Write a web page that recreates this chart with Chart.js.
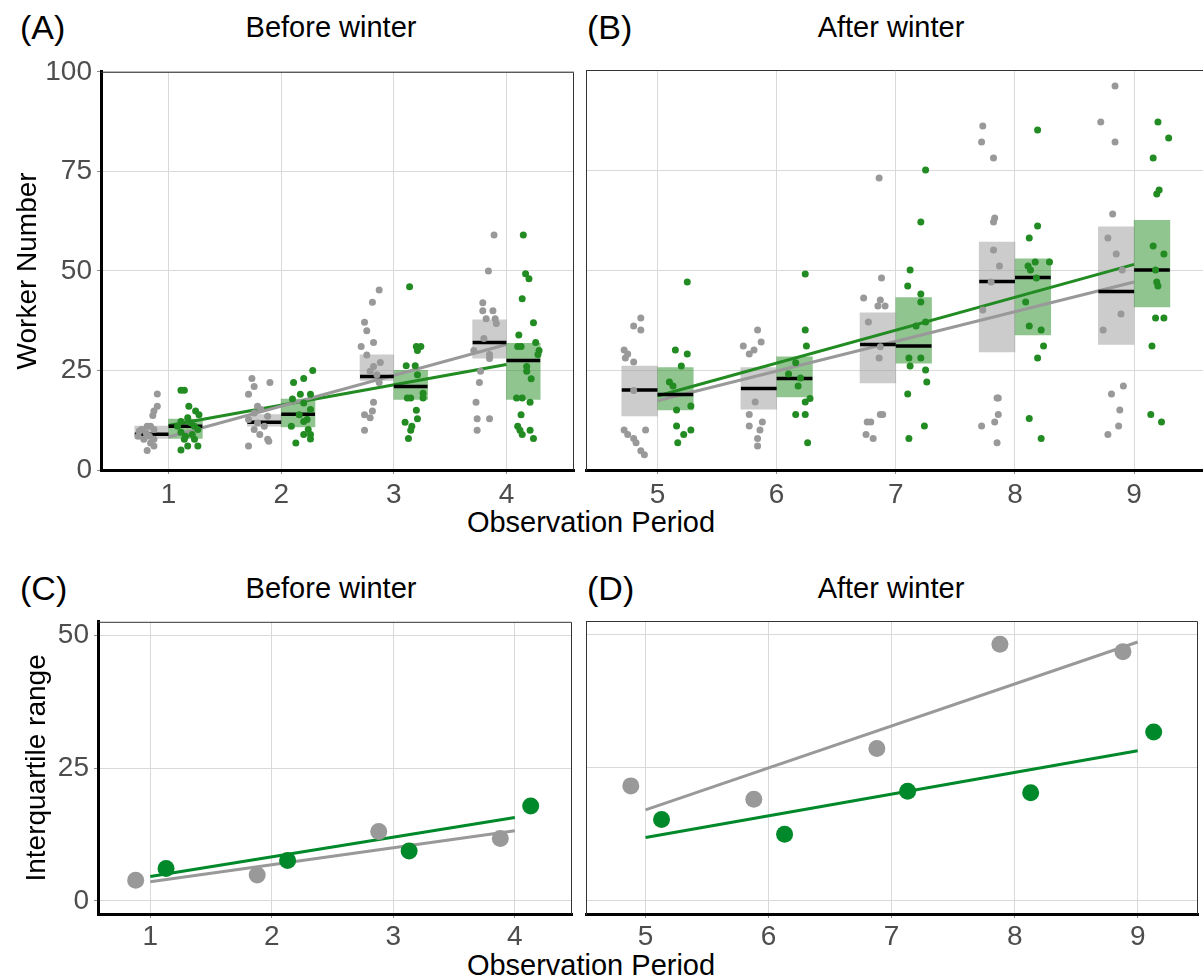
<!DOCTYPE html>
<html>
<head>
<meta charset="utf-8">
<script src="https://cdn.jsdelivr.net/npm/chart.js@4.4.1/dist/chart.umd.min.js"></script>
<style>
  html, body { margin: 0; padding: 0; background: #fff; }
  body { width: 1203px; height: 980px; position: relative; overflow: hidden; font-family: "Liberation Sans", Arial, sans-serif; }
  canvas { position: absolute; }
  .t { position: absolute; white-space: nowrap; color: #000; line-height: 1; }
  .c { transform: translate(-50%, -50%); }
  .l { transform: translateY(-50%); }
</style>
</head>
<body>
<div class="t l" style="left:20px;top:27px;font-size:34px">(A)</div>
<div class="t c" style="left:331px;top:27px;font-size:29px">Before winter</div>
<div class="t l" style="left:587px;top:27px;font-size:34px">(B)</div>
<div class="t c" style="left:891px;top:27px;font-size:29px">After winter</div>
<div class="t c" style="left:591px;top:522px;font-size:29px">Observation Period</div>

<div class="t l" style="left:20px;top:588px;font-size:34px">(C)</div>
<div class="t c" style="left:331px;top:588px;font-size:29px">Before winter</div>
<div class="t l" style="left:587px;top:588px;font-size:34px">(D)</div>
<div class="t c" style="left:891px;top:588px;font-size:29px">After winter</div>
<div class="t c" style="left:591px;top:965px;font-size:29px">Observation Period</div>

<canvas id="chartA" width="585" height="470" style="left:0;top:50px"></canvas>
<canvas id="chartB" width="640" height="470" style="left:580px;top:50px"></canvas>
<canvas id="chartC" width="585" height="380" style="left:0;top:600px"></canvas>
<canvas id="chartD" width="640" height="380" style="left:578px;top:600px"></canvas>

<script>
// ── Observation periods ────────────────────────────
const periodsBefore = [1, 2, 3, 4];
const periodsAfter = [5, 6, 7, 8, 9];

// ── Worker number per colony: [jitter, workers], one list per period ──
const greyCounts = [
  [[-0.10,19.1],[-0.10,16],[-0.13,14.8],[-0.14,13.7],[-0.19,11],[-0.24,10.2],[-0.13,10.2],[-0.20,9.3],[-0.16,11],[-0.27,8.5],[-0.17,8.5],[-0.22,7.7],[-0.13,7.7],[-0.16,6.8],[-0.13,6],[-0.19,4.9],[-0.26,9.8]],
  [[-0.26,23],[-0.10,22],[-0.24,21],[-0.29,19],[-0.21,16],[-0.18,15.2],[-0.24,14.3],[-0.12,13.5],[-0.29,12.7],[-0.21,11.8],[-0.15,11],[-0.19,8.9],[-0.12,7.7],[-0.29,6],[-0.11,7.2],[-0.24,10.2]],
  [[-0.13,45.2],[-0.19,42.1],[-0.26,37.1],[-0.24,35],[-0.18,32],[-0.29,31],[-0.24,28.9],[-0.12,27],[-0.18,26],[-0.21,24.8],[-0.15,23.9],[-0.13,22],[-0.18,17],[-0.19,14.8],[-0.26,13.9],[-0.21,13.1],[-0.26,10]],
  [[-0.11,59],[-0.16,50],[-0.21,42],[-0.21,40],[-0.12,40],[-0.18,38],[-0.10,38],[-0.09,36.8],[-0.20,33],[-0.29,30],[-0.15,29],[-0.15,28],[-0.23,24.8],[-0.24,22],[-0.27,17],[-0.26,12.9],[-0.15,12.9],[-0.26,10]],
  [[-0.14,38],[-0.20,36],[-0.14,35],[-0.28,30],[-0.25,29],[-0.27,28],[-0.20,27],[-0.20,19.9],[-0.28,10],[-0.25,8.9],[-0.20,7.9],[-0.18,6.8],[-0.10,10],[-0.14,4.8],[-0.11,3.8]],
  [[-0.16,35],[-0.28,31],[-0.19,30],[-0.23,29],[-0.13,32],[-0.18,17],[-0.23,13.9],[-0.12,12],[-0.23,11],[-0.14,10],[-0.16,7.9],[-0.16,6]],
  [[-0.14,73],[-0.12,48],[-0.27,43],[-0.13,42.5],[-0.15,41],[-0.09,41],[-0.23,37],[-0.13,30.8],[-0.14,28],[-0.24,12],[-0.21,12],[-0.11,13.9],[-0.13,13.9],[-0.25,8.9],[-0.19,7.9]],
  [[-0.27,86],[-0.28,82],[-0.18,78],[-0.17,63],[-0.18,62],[-0.18,55],[-0.13,51],[-0.20,47],[-0.27,40],[-0.14,18],[-0.15,18],[-0.14,13.9],[-0.17,12],[-0.28,11],[-0.15,6.8]],
  [[-0.16,96],[-0.28,87],[-0.16,82],[-0.18,64],[-0.22,58],[-0.15,54],[-0.10,50],[-0.11,39],[-0.26,35],[-0.09,21],[-0.19,19],[-0.12,15],[-0.13,11],[-0.22,8.9]]
];
const greenCounts = [
  [[0.11,20],[0.14,20],[0.18,16],[0.24,14.8],[0.27,13.9],[0.17,13.1],[0.11,12.2],[0.20,11.8],[0.23,11],[0.26,10.2],[0.11,9.5],[0.21,8.9],[0.14,7.7],[0.23,7.7],[0.17,6],[0.26,6],[0.11,5],[0.15,8.5],[0.08,11]],
  [[0.28,25],[0.20,23],[0.11,22],[0.17,19],[0.26,19],[0.10,17.8],[0.20,16.8],[0.26,15.2],[0.16,13.9],[0.23,12.7],[0.09,11],[0.20,12.2],[0.24,10.2],[0.26,8.9],[0.20,8.9],[0.26,7.8],[0.13,6.8]],
  [[0.14,46],[0.20,31],[0.24,31],[0.21,30],[0.11,26.2],[0.19,26.2],[0.21,23.9],[0.15,18.1],[0.12,18.1],[0.26,18.1],[0.20,15],[0.21,12.9],[0.10,12],[0.16,11],[0.15,10],[0.13,7.9],[0.26,19.3]],
  [[0.15,59],[0.17,49.3],[0.20,48],[0.14,43],[0.24,37],[0.11,33.9],[0.26,32],[0.13,31],[0.10,31],[0.29,30],[0.28,29],[0.18,26],[0.18,24.8],[0.22,22.9],[0.09,18.1],[0.14,18.1],[0.21,17],[0.13,13.9],[0.10,11],[0.12,10],[0.14,8.9],[0.21,10],[0.24,7.9]],
  [[0.25,47],[0.15,30],[0.25,29],[0.20,26],[0.10,22],[0.13,21],[0.16,15],[0.28,16],[0.16,11],[0.28,10],[0.22,8.9],[0.17,6.8]],
  [[0.24,49],[0.24,35],[0.25,31],[0.16,26.8],[0.10,24],[0.20,23],[0.18,21],[0.28,17.9],[0.24,17],[0.16,13.9],[0.24,13.9],[0.26,6.8]],
  [[0.25,75],[0.21,62],[0.12,50],[0.10,46],[0.21,44],[0.21,42],[0.25,37],[0.17,36],[0.11,28],[0.21,28],[0.12,26],[0.25,25],[0.26,22],[0.10,19],[0.24,11],[0.11,7.9]],
  [[0.19,85],[0.19,61],[0.12,58],[0.29,52],[0.17,52],[0.11,51],[0.13,50],[0.18,48],[0.09,42],[0.12,36],[0.22,35],[0.24,31],[0.19,28],[0.12,12.9],[0.22,7.9]],
  [[0.20,87],[0.29,83],[0.16,78],[0.21,70],[0.19,69],[0.16,56],[0.25,54],[0.18,50],[0.19,47],[0.20,46],[0.18,38],[0.25,38],[0.15,31],[0.14,13.9],[0.23,12]]
];

// ── Quartile boxes and medians per period ──────────
const greyQ1  = [7.9, 11, 22.5, 28.1, 13.5, 15.2, 21.8, 29.5, 31.4];
const greyMed = [9, 12, 23.5, 32, 20, 20.4, 31.4, 47.1, 44.6];
const greyQ3  = [11, 13.9, 28.9, 37.7, 26, 25.6, 39.3, 57, 60.8];
const greenQ1  = [7.9, 10.8, 17.7, 17.7, 15, 18.3, 26.7, 33.8, 40.8];
const greenMed = [11, 14, 21, 27.5, 18.9, 22.9, 31, 48.1, 50];
const greenQ3  = [12.8, 17.8, 25, 31.8, 25.6, 28.3, 43.1, 52.8, 62.4];

// ── Fitted trends: value at first and last period ──
const greyFitBefore = [8.3, 31.5];
const greenFitBefore = [11.2, 26.5];
const greyFitAfter = [17.3, 47];
const greenFitAfter = [18.5, 51.4];

// ── Interquartile range per period ─────────────────
const greyIqr = [3.9, 4.9, 13.1, 11.75, 21.6, 19.1, 28.6, 48.2, 46.8];
const greenIqr = [6.1, 7.6, 9.4, 17.9, 15.3, 12.5, 20.6, 20.3, 31.7];
const greyIqrFitBefore = [3.6, 13.2];
const greenIqrFitBefore = [4.6, 15.7];
const greyIqrFitAfter = [17.1, 48.6];
const greenIqrFitAfter = [11.9, 28.2];

const workerTicks = { min: 0, max: 100, step: 25 };
const iqrTicks = { min: -2.45, max: 52.55, step: 25 };

// ── Styling ────────────────────────────────────────
const FONT = '"Liberation Sans", Arial, sans-serif';
const GREY = "#999999";
const GREEN = "#228b22";
const GREEN_IQR = "#00892a";
const GRID = "#d9d9d9";
const TICK_TEXT = "#4d4d4d";

Chart.defaults.font.family = FONT;
Chart.defaults.animation = false;

// thin frame on top and right of each panel
const frame = {
  id: "frame",
  afterDraw(chart) {
    const { ctx, chartArea: a } = chart;
    ctx.save();
    ctx.strokeStyle = "#333";
    ctx.lineWidth = 1;
    ctx.beginPath();
    ctx.moveTo(a.left, a.top + 0.5);
    ctx.lineTo(a.right - 0.5, a.top + 0.5);
    ctx.lineTo(a.right - 0.5, a.bottom);
    ctx.stroke();
    ctx.restore();
  }
};

function xScale(min, max, height, pad) {
  return {
    type: "linear", min, max, offset: false,
    afterFit: s => { s.height = height; },
    grid: { color: GRID, lineWidth: 1, tickColor: "#8c8c8c", tickLength: 4, offset: false },
    border: { color: "#000", width: 3 },
    ticks: { stepSize: 1, includeBounds: false, color: TICK_TEXT, padding: pad, maxRotation: 0, autoSkip: false, font: { size: 28 } }
  };
}

function yScale(range, width, withLabels, title, titlePad) {
  return {
    type: "linear", min: range.min, max: range.max,
    afterFit: s => { s.width = width; },
    grid: { color: GRID, lineWidth: 1, tickColor: "#8c8c8c", tickLength: withLabels ? 4 : 0, drawTicks: withLabels },
    border: withLabels ? { color: "#000", width: 3 } : { color: "#333", width: 1 },
    ticks: { stepSize: range.step, includeBounds: false, display: withLabels, color: TICK_TEXT, padding: 5, font: { size: 28 } },
    title: { display: !!title, text: title, color: "#000", font: { size: 28 }, padding: { top: titlePad, bottom: 0 } }
  };
}

function segment(x0, x1, y) {
  return [{ x: x0, y }, { x: x1, y }, { x: x1, y: null }];
}

function workerDatasets(periods, greyFit, greenFit, boxPx) {
  const first = periods[0], last = periods[periods.length - 1];
  const box = (q1, q3, shift, color) => ({
    type: "bar", grouped: false, barThickness: boxPx, borderWidth: 0, backgroundColor: color, order: 4,
    data: periods.map(p => ({ x: p + shift, y: [q1[p - 1], q3[p - 1]] }))
  });
  const fit = (vals, color) => ({
    type: "line", data: [{ x: first, y: vals[0] }, { x: last, y: vals[1] }],
    borderColor: color, borderWidth: 3, pointRadius: 0, order: 3
  });
  const medians = (vals, from, to) => ({
    type: "line", data: periods.flatMap(p => segment(p + from, p + to, vals[p - 1])),
    borderColor: "#000", borderWidth: 3.5, pointRadius: 0, spanGaps: false, order: 2
  });
  const dots = (counts, color) => ({
    type: "scatter", order: 1, pointRadius: 3.5, pointBorderWidth: 0, backgroundColor: color,
    data: periods.flatMap(p => counts[p - 1].map(([dx, y]) => ({ x: p + dx, y })))
  });
  return [
    box(greyQ1, greyQ3, -0.15, "rgba(153,153,153,0.5)"),
    box(greenQ1, greenQ3, 0.15, "rgba(34,139,34,0.5)"),
    fit(greyFit, GREY),
    fit(greenFit, GREEN),
    medians(greyMed, -0.3, 0),
    medians(greenMed, 0, 0.3),
    dots(greyCounts, GREY),
    dots(greenCounts, GREEN)
  ];
}

function iqrDatasets(periods, greyFit, greenFit) {
  const first = periods[0], last = periods[periods.length - 1];
  const fit = (vals, color) => ({
    type: "line", data: [{ x: first, y: vals[0] }, { x: last, y: vals[1] }],
    borderColor: color, borderWidth: 3, pointRadius: 0, order: 2
  });
  const dots = (vals, shift, color) => ({
    type: "scatter", order: 1, pointRadius: 8.5, pointBorderWidth: 0, backgroundColor: color,
    data: periods.map(p => ({ x: p + shift, y: vals[p - 1] }))
  });
  return [
    fit(greyFit, GREY),
    fit(greenFit, GREEN_IQR),
    dots(greyIqr, -0.12, GREY),
    dots(greenIqr, 0.13, GREEN_IQR)
  ];
}

function makeChart(id, datasets, scales, padding) {
  return new Chart(document.getElementById(id), {
    type: "scatter",
    data: { datasets },
    options: {
      responsive: false,
      devicePixelRatio: 1,
      events: [],
      layout: { padding },
      plugins: { legend: { display: false }, tooltip: { enabled: false } },
      scales
    },
    plugins: [frame]
  });
}

// ── (A) Worker number, before winter ───────────────
makeChart("chartA",
  workerDatasets(periodsBefore, greyFitBefore, greenFitBefore, 0.3 * 473 / 4.2),
  { x: xScale(0.4, 4.6, 50, 4), y: yScale(workerTicks, 101, true, "Worker Number", 11) },
  { left: 0, top: 20, right: 11, bottom: 0 });

// ── (B) Worker number, after winter ────────────────
makeChart("chartB",
  workerDatasets(periodsAfter, greyFitAfter, greenFitAfter, 0.3 * 619.6 / 5.2),
  { x: xScale(4.4, 9.6, 50, 4), y: yScale(workerTicks, 6, false, "", 0) },
  { left: 0, top: 20, right: 14.4, bottom: 0 });

// ── (C) Interquartile range, before winter ─────────
makeChart("chartC",
  iqrDatasets(periodsBefore, greyIqrFitBefore, greenIqrFitBefore),
  { x: xScale(0.57, 4.47, 40, 2), y: yScale(iqrTicks, 98, true, "Interquartile range", 20) },
  { left: 0, top: 21, right: 13, bottom: 26 });

// ── (D) Interquartile range, after winter ──────────
makeChart("chartD",
  iqrDatasets(periodsAfter, greyIqrFitAfter, greenIqrFitAfter),
  { x: xScale(4.52, 9.49, 40, 2), y: yScale(iqrTicks, 6, false, "", 0) },
  { left: 0, top: 21, right: 20, bottom: 26 });
</script>
</body>
</html>
